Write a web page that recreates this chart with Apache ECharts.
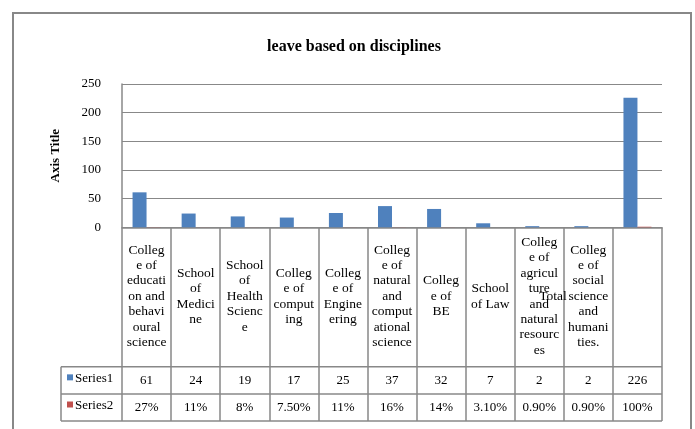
<!DOCTYPE html>
<html>
<head>
<meta charset="utf-8">
<title>leave based on disciplines</title>
<script src="https://cdn.jsdelivr.net/npm/echarts@6/dist/echarts.min.js"></script>
<style>
  html, body { margin: 0; padding: 0; background: #fff; }
  #chart { width: 695px; height: 429px; }
</style>
</head>
<body>
<div id="chart"></div>
<script>
// Category labels, broken the way the table cells wrap them
const categories = [
  'Colleg\ne of\neducati\non and\nbehavi\noural\nscience',
  'School\nof\nMedici\nne',
  'School\nof\nHealth\nScienc\ne',
  'Colleg\ne of\ncomput\ning',
  'Colleg\ne of\nEngine\nering',
  'Colleg\ne of\nnatural\nand\ncomput\national\nscience',
  'Colleg\ne of\nBE',
  'School\nof Law',
  'Colleg\ne of\nagricul\nture\nand\nnatural\nresourc\nes',
  'Colleg\ne of\nsocial\nscience\nand\nhumani\nties.',
  'Total'
];
const seriesNames = ['Series1', 'Series2'];
const series1 = [61, 24, 19, 17, 25, 37, 32, 7, 2, 2, 226];
// Series2 as percentages, with the number of decimals each cell shows
const series2Pct = [27, 11, 8, 7.5, 11, 16, 14, 3.1, 0.9, 0.9, 100];
const series2Decimals = [0, 0, 0, 2, 0, 0, 0, 2, 2, 2, 0];
const yMin = 0, yMax = 250, yStep = 50;

const FONT = '"Liberation Serif", "Times New Roman", serif';
const GRAY = '#888888';
const BLUE = '#4F81BD';
const RED = '#C0504D';

const series2 = series2Pct.map(v => v / 100);
const series2Text = series2Pct.map((v, i) => v.toFixed(series2Decimals[i]) + '%');

const chart = echarts.init(document.getElementById('chart'), null, { renderer: 'canvas' });

const option = {
  animation: false,
  backgroundColor: '#fff',
  title: {
    text: 'leave based on disciplines',
    left: 349,
    textAlign: 'center',
    top: 34,
    textStyle: { fontFamily: FONT, fontSize: 16, fontWeight: 'bold', color: '#000' }
  },
  grid: { left: 122, right: 33, top: 84, bottom: 201.7, containLabel: false, outerBoundsMode: 'none' },
  xAxis: {
    type: 'category',
    data: categories,
    boundaryGap: true,
    axisLine: { show: true, lineStyle: { color: GRAY, width: 1.5 } },
    axisTick: { show: true, length: 193.7, lineStyle: { color: GRAY, width: 1.5 } },
    axisLabel: {
      interval: 0,
      margin: 69,
      verticalAlign: 'middle',
      fontFamily: FONT,
      fontSize: 13.5,
      lineHeight: 15.4,
      color: '#000',
      formatter: (val, idx) => idx === categories.length - 1 ? '{shift|' + val + '}' : val,
      rich: {
        shift: { fontFamily: FONT, fontSize: 13.5, color: '#000', padding: [0, 169, 0, 0] }
      }
    }
  },
  yAxis: {
    type: 'value',
    min: yMin,
    max: yMax,
    interval: yStep,
    name: 'Axis Title',
    nameLocation: 'middle',
    nameRotate: 90,
    nameGap: 60,
    nameTextStyle: { fontFamily: FONT, fontSize: 13, fontWeight: 'bold', color: '#000' },
    axisLine: { show: true, lineStyle: { color: GRAY, width: 1.5 } },
    axisTick: { show: false },
    axisLabel: { margin: 21, fontFamily: FONT, fontSize: 13, color: '#000' },
    splitLine: { show: true, lineStyle: { color: GRAY, width: 1.2 } }
  },
  series: [
    {
      name: seriesNames[0],
      type: 'bar',
      data: series1,
      barWidth: 14,
      barGap: '0%',
      itemStyle: { color: BLUE }
    },
    {
      name: seriesNames[1],
      type: 'bar',
      data: series2,
      barWidth: 14,
      barGap: '0%',
      itemStyle: { color: RED }
    }
  ]
};

chart.setOption(option);

// Data table under the axis: rows of values aligned to the category columns
function drawTable() {
  const c0 = chart.convertToPixel({ xAxisIndex: 0 }, 0);
  const c1 = chart.convertToPixel({ xAxisIndex: 0 }, 1);
  const colW = c1 - c0;
  const tableRight = chart.convertToPixel({ xAxisIndex: 0 }, categories.length - 1) + colW / 2;
  const keyLeft = 61;
  const rowTops = [366.7, 394, 421];
  const rows = [series1.map(String), series2Text];
  const keyColors = [BLUE, RED];
  const els = [];

  rowTops.forEach(y => {
    els.push({
      type: 'line',
      shape: { x1: keyLeft, y1: y, x2: tableRight, y2: y },
      style: { stroke: GRAY, lineWidth: 1.5 }
    });
  });
  els.push({
    type: 'line',
    shape: { x1: keyLeft, y1: rowTops[0], x2: keyLeft, y2: rowTops[2] },
    style: { stroke: GRAY, lineWidth: 1.5 }
  });

  rows.forEach((cells, r) => {
    const midY = (rowTops[r] + rowTops[r + 1]) / 2;
    els.push({
      type: 'rect',
      shape: { x: 67, y: midY - 6, width: 6, height: 6 },
      style: { fill: keyColors[r] }
    });
    els.push({
      type: 'text',
      x: 75, y: midY - 2,
      style: {
        text: seriesNames[r], fontFamily: FONT, fontSize: 13, fill: '#000',
        textAlign: 'left', textVerticalAlign: 'middle'
      }
    });
    cells.forEach((t, i) => {
      els.push({
        type: 'text',
        x: chart.convertToPixel({ xAxisIndex: 0 }, i),
        y: midY + 0.5,
        style: {
          text: t, fontFamily: FONT, fontSize: 13, fill: '#000',
          textAlign: 'center', textVerticalAlign: 'middle'
        }
      });
    });
  });

  // Outer chart frame
  els.push({
    type: 'rect',
    shape: { x: 13, y: 13, width: 678, height: 440 },
    style: { fill: 'none', stroke: GRAY, lineWidth: 2 }
  });

  chart.setOption({ graphic: els });
}

drawTable();
</script>
</body>
</html>
